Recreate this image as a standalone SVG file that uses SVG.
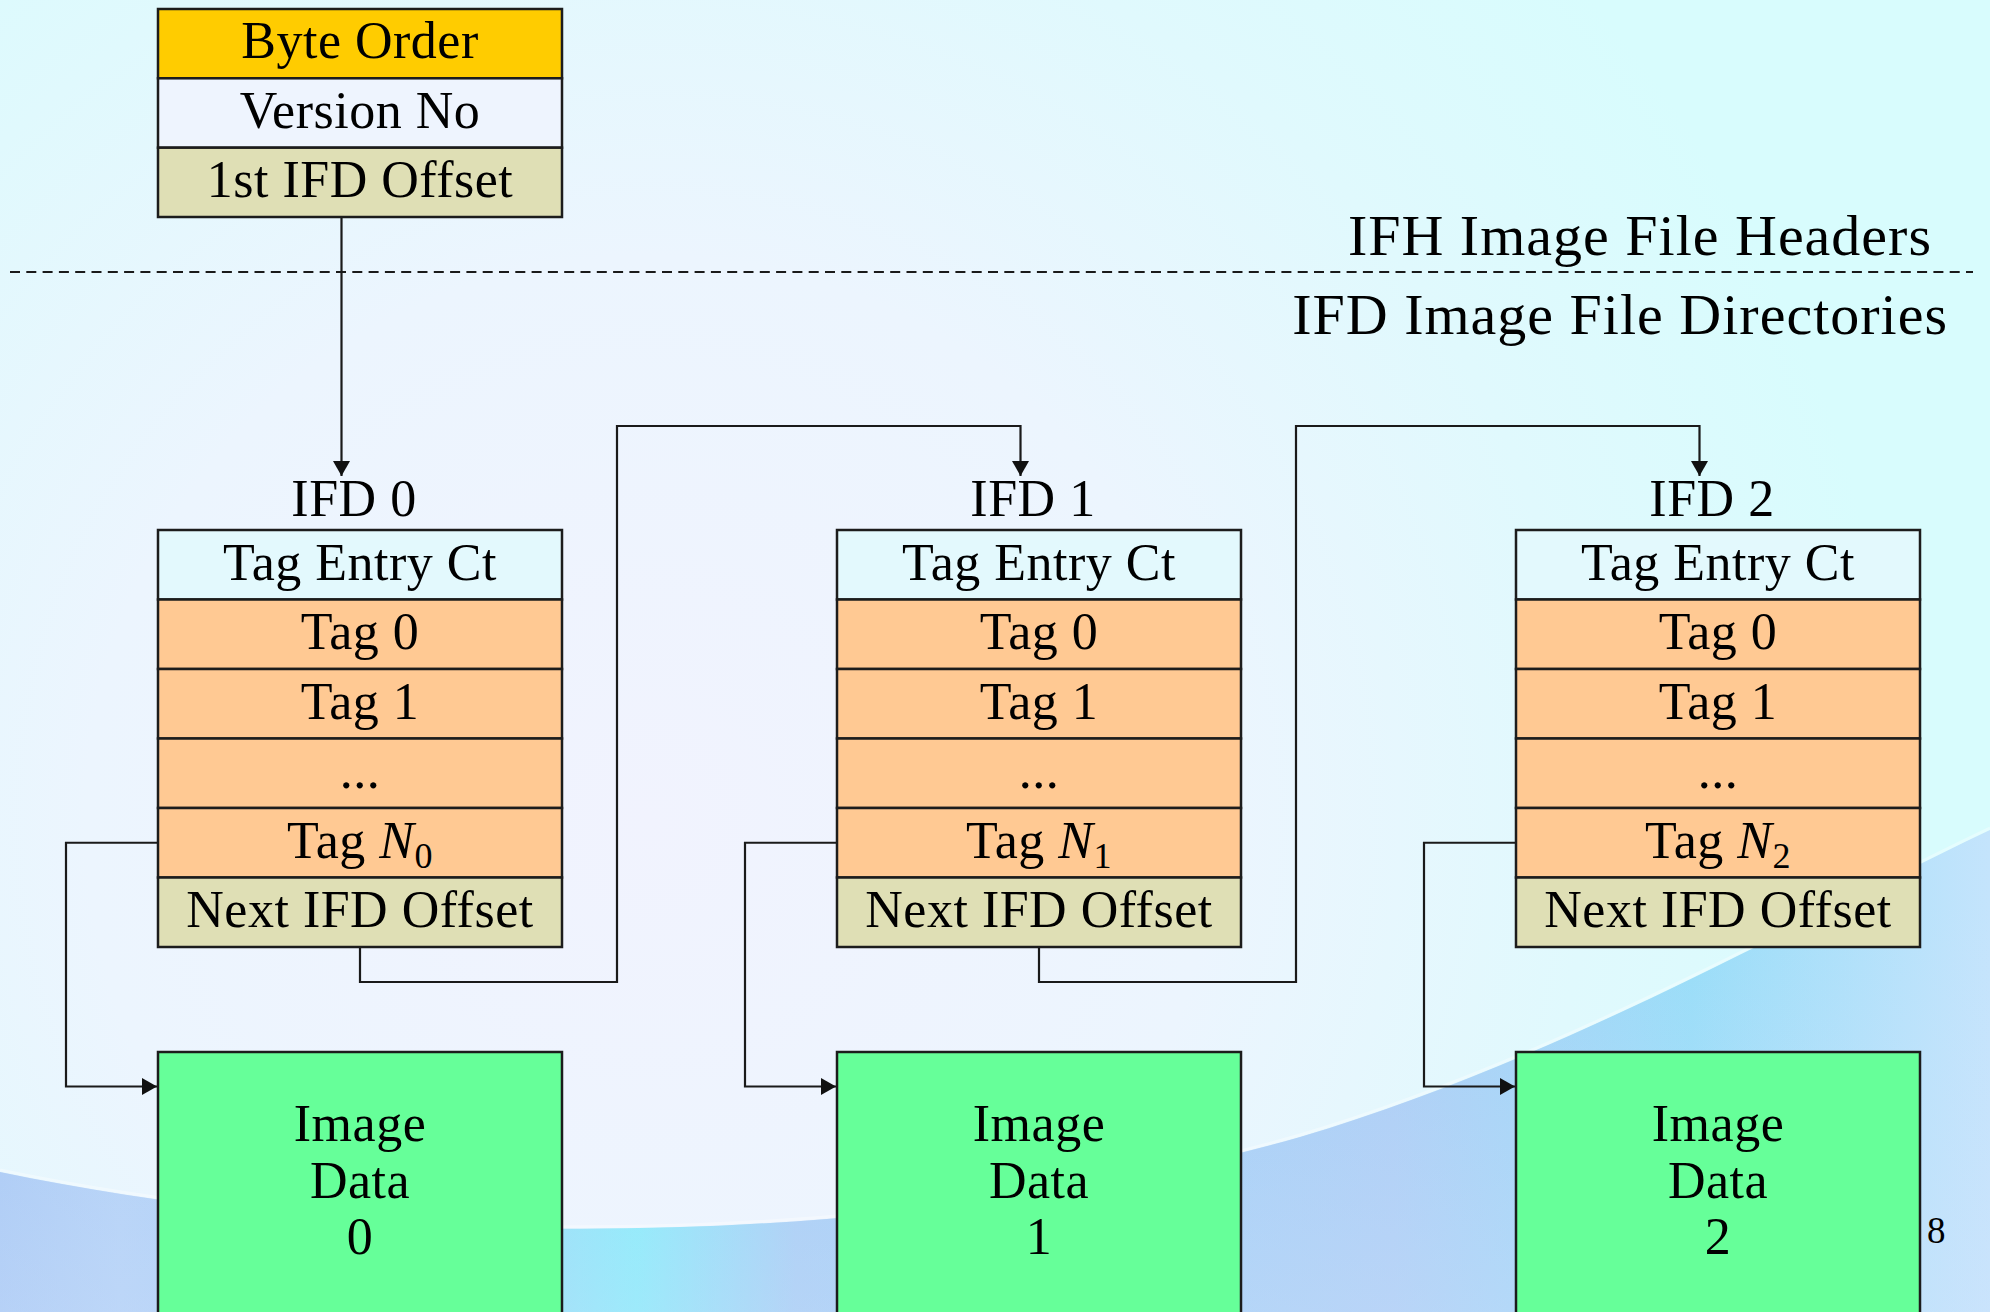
<svg xmlns="http://www.w3.org/2000/svg" width="1990" height="1312" viewBox="0 0 1990 1312">
<defs>
<radialGradient id="bg" cx="650" cy="820" r="1250" gradientUnits="userSpaceOnUse">
<stop offset="0" stop-color="#f1f3fe"/>
<stop offset="0.45" stop-color="#ecf5fe"/>
<stop offset="0.75" stop-color="#e0f9fd"/>
<stop offset="1" stop-color="#d8fcfd"/>
</radialGradient>
<linearGradient id="blue" x1="0" y1="0" x2="1990" y2="0" gradientUnits="userSpaceOnUse">
<stop offset="0" stop-color="#a6c8f4"/>
<stop offset="0.06" stop-color="#b0d0f6"/>
<stop offset="0.2" stop-color="#a2cbf4"/>
<stop offset="0.32" stop-color="#80eefa"/>
<stop offset="0.4" stop-color="#a4ccf4"/>
<stop offset="0.55" stop-color="#9fd0f6"/>
<stop offset="0.7" stop-color="#aacdf5"/>
<stop offset="0.85" stop-color="#98ddf8"/>
<stop offset="1" stop-color="#c4e4fc"/>
</linearGradient>
<linearGradient id="fade" x1="0" y1="900" x2="0" y2="1312" gradientUnits="userSpaceOnUse">
<stop offset="0" stop-color="#d4e2fc" stop-opacity="0"/>
<stop offset="1" stop-color="#d4e2fc" stop-opacity="0.35"/>
</linearGradient>
<marker id="arr" markerUnits="userSpaceOnUse" markerWidth="16" markerHeight="18" refX="15" refY="8.5" orient="auto">
<path d="M0,0 L15,8.5 L0,17 z" fill="#111"/>
</marker>
<style>
.box{stroke:#1c1c1c;stroke-width:2.5}
.t{font-family:"Liberation Serif","Times New Roman",serif;font-size:52px;text-anchor:middle;fill:#000;letter-spacing:0.5px}
.big{font-family:"Liberation Serif","Times New Roman",serif;font-size:58px;text-anchor:end;fill:#000;letter-spacing:1px}
.conn{fill:none;stroke:#1a1a1a;stroke-width:2.2}
.gold{fill:#ffcc00}
.pale{fill:#eef4fe}
.cyan{fill:#e3f9fd}
.khaki{fill:#dfdfb5}
.peach{fill:#ffc993}
.green{fill:#66ff99}
.it{font-style:italic}
.sub{font-size:36px}
</style>
</defs>

<g id="background">
<rect x="0" y="0" width="1990" height="1312" fill="url(#bg)"/>
<path d="M0,1172 C400,1255 900,1250 1300,1137 C1560,1060 1800,920 1990,830 V1312 H0 Z" fill="url(#blue)"/>
<path d="M0,1172 C400,1255 900,1250 1300,1137 C1560,1060 1800,920 1990,830 V1312 H0 Z" fill="url(#fade)"/>
<path d="M0,1170 C400,1253 900,1248 1300,1135 C1560,1058 1800,918 1990,828" fill="none" stroke="#ffffff" stroke-opacity="0.35" stroke-width="3"/>
</g>

<g id="separator">
<line x1="10" y1="272" x2="1973" y2="272" stroke="#1a1a1a" stroke-width="2" stroke-dasharray="10 6.3"/>
<text class="big" x="1932" y="255">IFH Image File Headers</text>
<text class="big" x="1948" y="334">IFD Image File Directories</text>
</g>

<g id="connectors">
<path class="conn" d="M341.5,217 V476" marker-end="url(#arr)"/>
<path class="conn" d="M360,947 V982 H617 V426 H1020.5 V476" marker-end="url(#arr)"/>
<path class="conn" d="M1039,947 V982 H1296 V426 H1699.5 V476" marker-end="url(#arr)"/>
<path class="conn" d="M158,842.75 H66 V1086.5 H157" marker-end="url(#arr)"/>
<path class="conn" d="M837,842.75 H745 V1086.5 H836" marker-end="url(#arr)"/>
<path class="conn" d="M1516,842.75 H1424 V1086.5 H1515" marker-end="url(#arr)"/>
</g>

<g id="ifh">
<rect class="box gold" x="158" y="9" width="404" height="69.3"/>
<rect class="box pale" x="158" y="78.3" width="404" height="69.4"/>
<rect class="box khaki" x="158" y="147.7" width="404" height="69.3"/>
<text class="t" x="360" y="58">Byte Order</text>
<text class="t" x="360" y="127.5">Version No</text>
<text class="t" x="360" y="197">1st IFD Offset</text>
</g>

<g id="ifd0">
<text class="t" x="354" y="516">IFD 0</text>
<rect class="box cyan" x="158" y="530" width="404" height="69.5"/>
<rect class="box peach" x="158" y="599.5" width="404" height="69.5"/>
<rect class="box peach" x="158" y="669" width="404" height="69.5"/>
<rect class="box peach" x="158" y="738.5" width="404" height="69.5"/>
<rect class="box peach" x="158" y="808" width="404" height="69.5"/>
<rect class="box khaki" x="158" y="877.5" width="404" height="69.5"/>
<text class="t" x="360" y="579.5">Tag Entry Ct</text>
<text class="t" x="360" y="649">Tag 0</text>
<text class="t" x="360" y="718.5">Tag 1</text>
<text class="t" x="360" y="788">...</text>
<text class="t" x="360" y="857.5">Tag <tspan class="it">N</tspan><tspan class="sub" dy="10">0</tspan></text>
<text class="t" x="360" y="927">Next IFD Offset</text>
</g>

<g id="ifd1">
<text class="t" x="1033" y="516">IFD 1</text>
<rect class="box cyan" x="837" y="530" width="404" height="69.5"/>
<rect class="box peach" x="837" y="599.5" width="404" height="69.5"/>
<rect class="box peach" x="837" y="669" width="404" height="69.5"/>
<rect class="box peach" x="837" y="738.5" width="404" height="69.5"/>
<rect class="box peach" x="837" y="808" width="404" height="69.5"/>
<rect class="box khaki" x="837" y="877.5" width="404" height="69.5"/>
<text class="t" x="1039" y="579.5">Tag Entry Ct</text>
<text class="t" x="1039" y="649">Tag 0</text>
<text class="t" x="1039" y="718.5">Tag 1</text>
<text class="t" x="1039" y="788">...</text>
<text class="t" x="1039" y="857.5">Tag <tspan class="it">N</tspan><tspan class="sub" dy="10">1</tspan></text>
<text class="t" x="1039" y="927">Next IFD Offset</text>
</g>

<g id="ifd2">
<text class="t" x="1712" y="516">IFD 2</text>
<rect class="box cyan" x="1516" y="530" width="404" height="69.5"/>
<rect class="box peach" x="1516" y="599.5" width="404" height="69.5"/>
<rect class="box peach" x="1516" y="669" width="404" height="69.5"/>
<rect class="box peach" x="1516" y="738.5" width="404" height="69.5"/>
<rect class="box peach" x="1516" y="808" width="404" height="69.5"/>
<rect class="box khaki" x="1516" y="877.5" width="404" height="69.5"/>
<text class="t" x="1718" y="579.5">Tag Entry Ct</text>
<text class="t" x="1718" y="649">Tag 0</text>
<text class="t" x="1718" y="718.5">Tag 1</text>
<text class="t" x="1718" y="788">...</text>
<text class="t" x="1718" y="857.5">Tag <tspan class="it">N</tspan><tspan class="sub" dy="10">2</tspan></text>
<text class="t" x="1718" y="927">Next IFD Offset</text>
</g>

<g id="img0">
<rect class="box green" x="158" y="1052" width="404" height="280"/>
<text class="t" x="360" y="1141">Image</text>
<text class="t" x="360" y="1198">Data</text>
<text class="t" x="360" y="1254">0</text>
</g>

<g id="img1">
<rect class="box green" x="837" y="1052" width="404" height="280"/>
<text class="t" x="1039" y="1141">Image</text>
<text class="t" x="1039" y="1198">Data</text>
<text class="t" x="1039" y="1254">1</text>
</g>

<g id="img2">
<rect class="box green" x="1516" y="1052" width="404" height="280"/>
<text class="t" x="1718" y="1141">Image</text>
<text class="t" x="1718" y="1198">Data</text>
<text class="t" x="1718" y="1254">2</text>
</g>

<text x="1927" y="1243" font-family="Liberation Serif, Times New Roman, serif" font-size="37" fill="#000">8</text>
</svg>
